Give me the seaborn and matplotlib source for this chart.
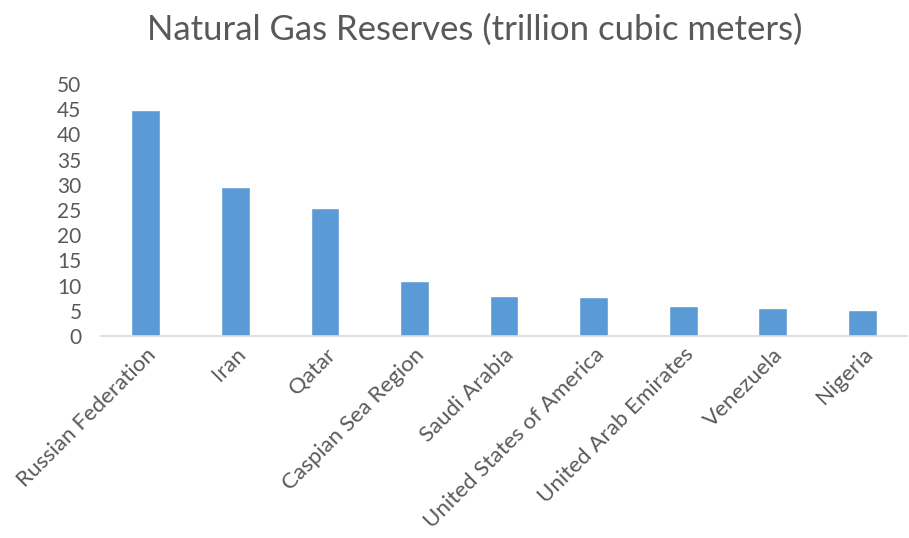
import matplotlib
matplotlib.use("Agg")
import matplotlib.pyplot as plt
import seaborn as sns
import pandas as pd

countries = [
    "Russian Federation", "Iran", "Qatar", "Caspian Sea Region",
    "Saudi Arabia", "United States of America", "United Arab Emirates",
    "Venezuela", "Nigeria",
]
reserves = [44.8, 29.6, 25.3, 11.0, 8.0, 7.7, 6.0, 5.5, 5.2]
y_ticks = [0, 5, 10, 15, 20, 25, 30, 35, 40, 45, 50]

sns.set_theme(style="white")
plt.rcParams["font.family"] = ["Lato", "DejaVu Sans"]

df = pd.DataFrame({"country": countries, "reserves": reserves})

fig = plt.figure(figsize=(9.09, 5.38), dpi=100)
ax = fig.add_axes([0.111, 0.3755, 0.887, 0.4685])

sns.barplot(data=df, x="country", y="reserves", color="#5B9BD5",
            saturation=1, width=0.32, ax=ax)

ax.set_ylim(0, 50)
ax.set_yticks(y_ticks)
ax.set_yticklabels([str(t) for t in y_ticks], fontsize=15, color="#595959")
ax.set_xlabel("")
ax.set_ylabel("")
ax.tick_params(axis="both", length=0, pad=6)
ax.tick_params(axis="y", pad=14)
for lbl in ax.get_xticklabels():
    lbl.set_rotation(45)
    lbl.set_ha("right")
    lbl.set_rotation_mode("anchor")
    lbl.set_fontsize(16)
    lbl.set_color("#595959")

for side in ["top", "right", "left"]:
    ax.spines[side].set_visible(False)
ax.spines["bottom"].set_color("#D9D9D9")
ax.spines["bottom"].set_linewidth(1.2)

fig.text(0.522, 0.945, "Natural Gas Reserves (trillion cubic meters)",
         ha="center", va="center", fontsize=25, color="#595959")

fig.savefig("out.png", dpi=100, facecolor="white")
